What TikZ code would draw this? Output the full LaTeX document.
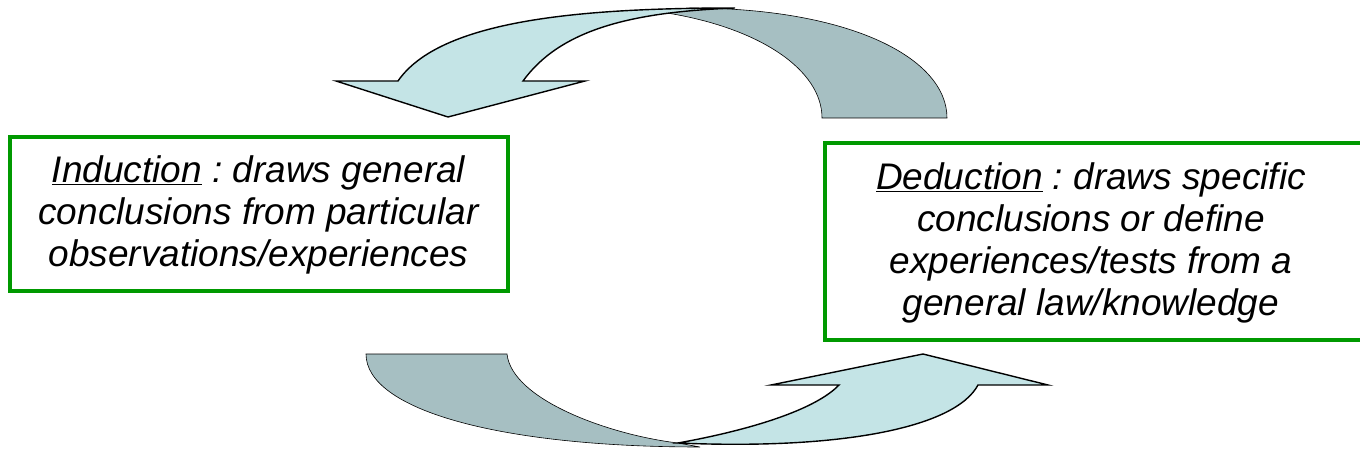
\documentclass[tikz,border=0pt]{standalone}
\usepackage{fontspec}
\setmainfont{Liberation Sans}
\frenchspacing
\definecolor{lightband}{RGB}{196,228,230}
\definecolor{darkband}{RGB}{166,191,194}
\definecolor{boxgreen}{RGB}{0,153,0}
\tikzset{
  lightpart/.style={fill=lightband, draw=black, line width=1.4pt, line join=miter},
  darkpart/.style={fill=darkband, draw=black, line width=0.6pt},
  boxtext/.style={align=center, inner sep=0pt, font=\fontsize{37}{42}\selectfont\itshape},
  textbox/.style={boxtext, draw=boxgreen, line width=4pt, fill=white}
}
\begin{document}
\begin{tikzpicture}[x=1pt,y=-1pt]
\useasboundingbox (0,0) rectangle (1360,454);
\begin{scope}
\clip (0,0) rectangle (1360,454);
% top arrow: dark tail
\path[darkpart] (822,118) -- (947,118) .. controls (947,58) and (850,8) .. (690,8)
  -- (667,13) .. controls (760,28) and (822,70) .. (822,118) -- cycle;
% top arrow: light band with head
\path[lightpart] (523,81) -- (585,81) -- (448,117) -- (336,81) -- (398,81)
  .. controls (440,20) and (580,8) .. (735,8)
  .. controls (630,12) and (560,30) .. (523,81) -- cycle;
% bottom arrow: dark tail
\path[darkpart] (366,354) -- (507,354) .. controls (512,400) and (610,435) .. (678,443)
  -- (700,447) .. controls (500,447) and (366,410) .. (366,354) -- cycle;
% bottom arrow: light band with head
\path[lightpart] (839,385) -- (771,385) -- (923,354) -- (1048,385) -- (978,385)
  .. controls (955,428) and (840,450) .. (678,443)
  .. controls (750,430) and (815,410) .. (839,385) -- cycle;
% boxes
\node[textbox, minimum width=498pt, minimum height=154pt] (ind) at (258.5,214.5)
  {\underline{Induction} : draws general\\conclusions from particular\\observations/experiences};
\node[textbox, minimum width=540pt, minimum height=197pt] (ded) at (1095,241.5) {};
\node[boxtext] (dedtext) at (1091,243)
  {\underline{Deduction} : draws specific\\conclusions or define\\experiences/tests from a\\general law/knowledge};
\end{scope}
\end{tikzpicture}
\end{document}
